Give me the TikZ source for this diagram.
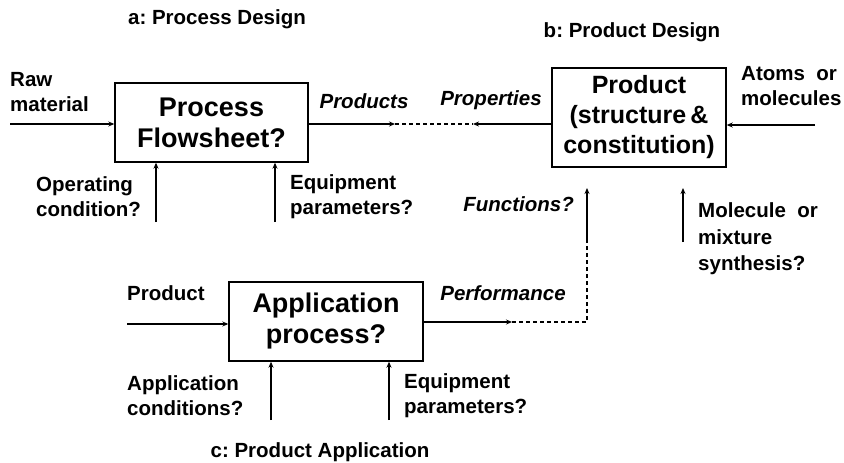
\documentclass[tikz,border=0pt]{standalone}
\usepackage{fontspec}
\setmainfont{Liberation Sans}
\usetikzlibrary{arrows.meta}
\frenchspacing
\begin{document}
\begin{tikzpicture}[x=1pt,y=-1pt,
  box/.style={draw,line width=1.4pt,inner sep=0pt,align=center,font=\bfseries\fontsize{27}{31}\selectfont},
  lbl/.style={inner sep=0pt,align=left,font=\bfseries\fontsize{20.5}{25}\selectfont},
  ilbl/.style={inner sep=0pt,align=left,font=\bfseries\itshape\fontsize{20.5}{25}\selectfont},
  ttl/.style={inner sep=0pt,font=\bfseries\fontsize{20.5}{25}\selectfont},
  arr/.style={line width=1.2pt,-{Stealth[length=6pt,width=5pt]}},
  dsh/.style={line width=1.2pt,dash pattern=on 4pt off 3pt}]
\useasboundingbox (0,0) rectangle (844,463);
% boxes
\node[box,minimum width=193pt,minimum height=79pt] (b1) at (211.5,122.5) {Process\\Flowsheet?};
\node[box,minimum width=174pt,minimum height=99pt,font=\bfseries\fontsize{25}{30}\selectfont] (b2) at (639,117.5) {Product\\(structure\,\&\\constitution)};
\node[box,minimum width=194pt,minimum height=79pt] (b3) at (326,321.5) {Application\\process?};
% titles
\node[ttl] (ta) at (217,19) {a: Process Design};
\node[ttl] (tb) at (632,32) {b: Product Design};
\node[ttl] (tc) at (320,452) {c: Product Application};
% labels
\node[lbl,anchor=west] (raw) at (10,92) {Raw\\material};
\node[ilbl] (prods) at (364,101) {Products};
\node[ilbl] (props) at (491,100) {Properties};
\node[lbl,anchor=west] (atoms) at (741,86) {Atoms\ \ or\\molecules};
\node[lbl,anchor=west] (opc) at (36,197) {Operating\\condition?};
\node[lbl,anchor=west] (eq1) at (290,197) {Equipment\\parameters?};
\node[ilbl,anchor=east] (func) at (574,204) {Functions?};
\node[lbl,anchor=west,font=\bfseries\fontsize{20.5}{26.5}\selectfont] (mol) at (698,239) {Molecule\ \ or\\mixture\\synthesis?};
\node[ilbl] (perf) at (503,293) {Performance};
\node[lbl,anchor=west] (prod) at (127,293) {Product};
\node[lbl,anchor=west] (appc) at (127,396) {Application\\conditions?};
\node[lbl,anchor=west] (eq2) at (404,396) {Equipment\\parameters?};
% coordinates
\coordinate (rawS) at (10,124);
\coordinate (p1) at (395,124);
\coordinate (p2) at (473,124);
\coordinate (atS) at (815,125);
\coordinate (oc) at (156,222);
\coordinate (e1) at (275,222);
\coordinate (prS) at (127,324);
\coordinate (pf) at (512,322);
\coordinate (jn) at (587,322);
\coordinate (fb) at (587,242);
\coordinate (ft) at (587,188);
\coordinate (mb) at (683,242);
\coordinate (mt) at (683,188);
\coordinate (ac) at (271,420);
\coordinate (e2) at (389,420);
% connectors
\draw[arr] (rawS) -- (rawS -| b1.west);
\draw[arr] (b1.east |- p1) -- (p1);
\draw[dsh] (p1) -- (p2);
\draw[arr] (b2.west |- p2) -- (p2);
\draw[arr] (atS) -- (atS -| b2.east);
\draw[arr] (oc) -- (oc |- b1.south);
\draw[arr] (e1) -- (e1 |- b1.south);
\draw[arr] (prS) -- (prS -| b3.west);
\draw[arr] (b3.east |- pf) -- (pf);
\draw[dsh] (pf) -- (jn) -- (fb);
\draw[arr] (fb) -- (ft);
\draw[arr] (mb) -- (mt);
\draw[arr] (ac) -- (ac |- b3.south);
\draw[arr] (e2) -- (e2 |- b3.south);
\end{tikzpicture}
\end{document}
